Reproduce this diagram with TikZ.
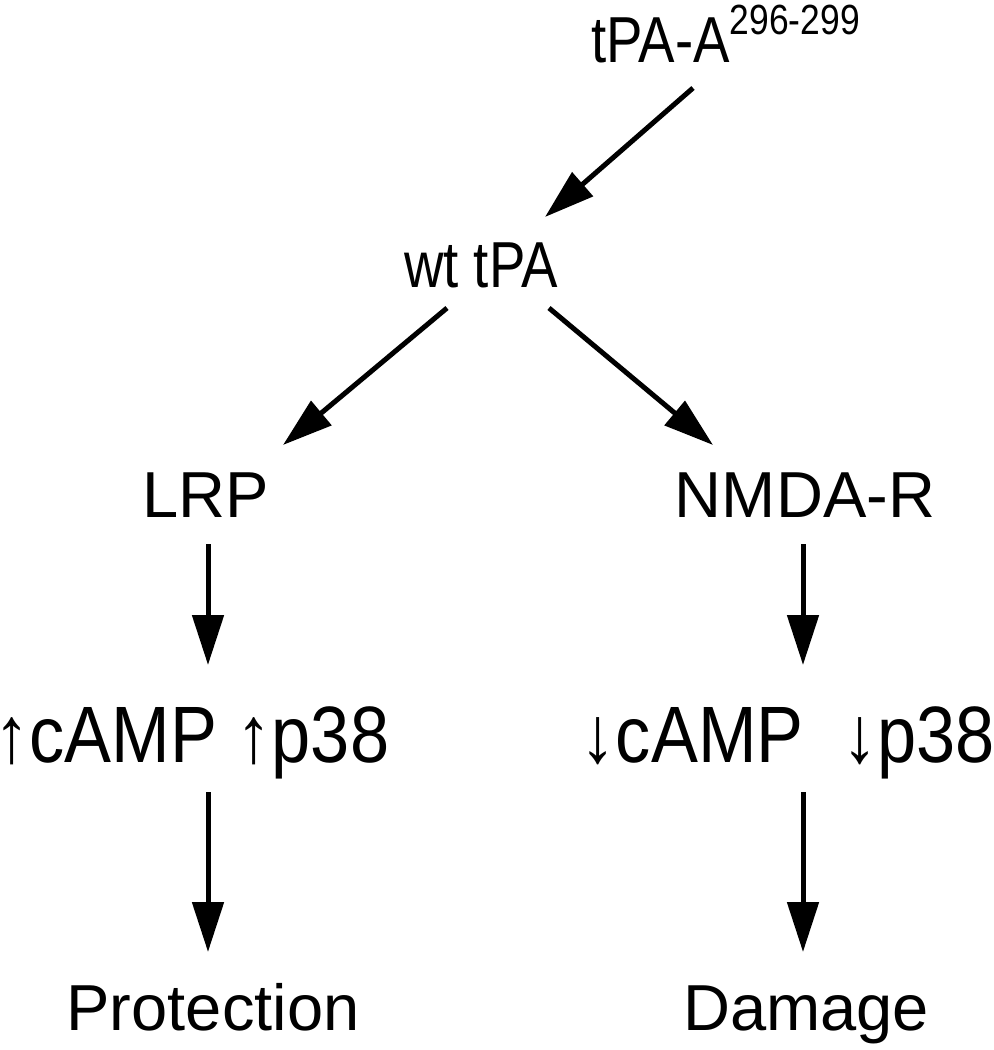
\documentclass[tikz,border=0pt]{standalone}
\usepackage{fontspec}
\setmainfont{Liberation Sans}
\usetikzlibrary{arrows.meta}
\newcommand{\supnum}[1]{\raisebox{0.56cm}{\fontsize{24}{28}\selectfont #1}}
\newcommand{\narrow}[2]{\scalebox{#1}[1]{#2}}

\begin{document}
\begin{tikzpicture}[
	every node/.append style={inner sep=0pt, anchor=base},
	lbl/.style={font=\fontsize{37}{44}\selectfont},
	level/.style={font=\fontsize{45.5}{54}\selectfont},
	flow/.style={line width=0.1cm, -{Triangle[length=1cm, width=0.62cm]}}]

	\useasboundingbox (0,0) rectangle (19.88,-21);

	\node[lbl] at (14.51, -1.24) (top){\narrow{0.84}{tPA-A\supnum{296-299}}};
	\node[lbl] at (9.62, -5.74) (wt){\narrow{0.84}{wt tPA}};
	\node[lbl] at (4.12, -10.34) (lrp){LRP};
	\node[lbl] at (16.10, -10.34) (nmda){NMDA-R};
	\node[level, anchor=base west] at (-0.12, -15.24) (up){\narrow{0.88}{↑cAMP ↑p38}};
	\node[level, anchor=base east] at (19.90, -15.24) (down){\narrow{0.88}{↓cAMP \hspace{0.43cm}↓p38}};
	\node[lbl] at (4.26, -20.6) (prot){Protection};
	\node[lbl] at (16.12, -20.6) (dam){Damage};

	\draw[flow] ([xshift=-0.65cm, yshift=-0.52cm]top.base) -- ([xshift=1.28cm, yshift=1.40cm]wt.base);
	\draw[flow] ([xshift=-0.68cm, yshift=-0.42cm]wt.base) -- ([xshift=1.54cm, yshift=1.44cm]lrp.base);
	\draw[flow] ([xshift=1.36cm, yshift=-0.42cm]wt.base) -- ([xshift=-1.84cm, yshift=1.44cm]nmda.base);
	\draw[flow] ([xshift=0.04cm, yshift=-0.54cm]lrp.base) -- ([xshift=0.04cm, yshift=-2.96cm]lrp.base);
	\draw[flow] ([xshift=-0.04cm, yshift=-0.54cm]nmda.base) -- ([xshift=-0.04cm, yshift=-2.96cm]nmda.base);
	\draw[flow] ([xshift=-0.10cm, yshift=4.76cm]prot.base) -- ([xshift=-0.10cm, yshift=1.56cm]prot.base);
	\draw[flow] ([xshift=-0.06cm, yshift=4.76cm]dam.base) -- ([xshift=-0.06cm, yshift=1.56cm]dam.base);
\end{tikzpicture}
\end{document}
